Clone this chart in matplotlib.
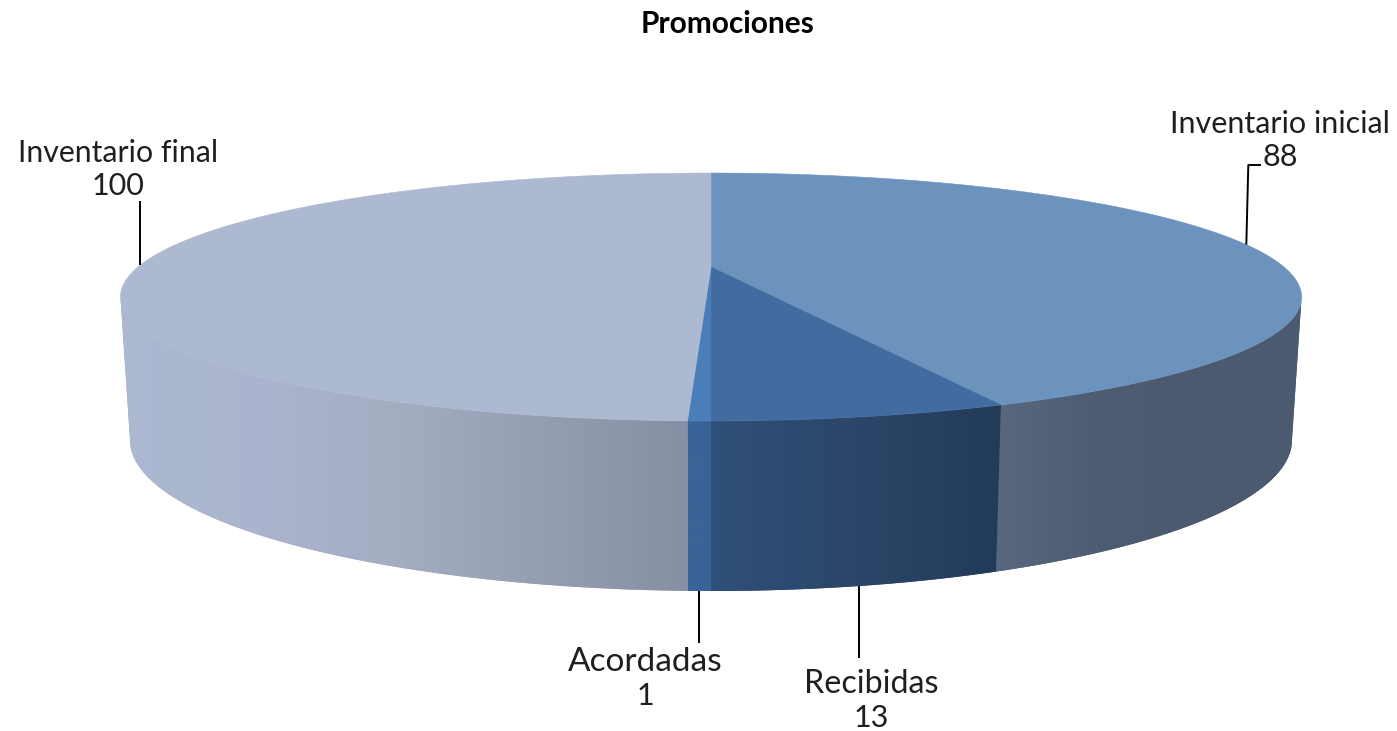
import numpy as np
import matplotlib.pyplot as plt
from matplotlib.colors import LinearSegmentedColormap
from matplotlib.patches import Polygon

# datos
categorias = ["Inventario inicial", "Recibidas", "Acordadas", "Inventario final"]
valores = [88, 13, 1, 100]

# colores de cada rebanada: cara superior y degradado del lateral (izquierda a derecha)
color_top = ["#6C93BE", "#426C9F", "#4A7EB8", "#ACB9D1"]
color_lado = [["#57687F", "#4E5C72", "#4C5A70", "#4C5A70"],
              ["#2F5078", "#2B4669", "#233B59"],
              ["#3A6497", "#3A6497"],
              ["#ACB9D1", "#ABB4CE", "#A3ACC0", "#959EB1", "#868FA3"]]

# posicion de las etiquetas (x, linea base nombre, linea base valor, fin de la guia)
pos_texto = [(1280, 133, 166, (1261, 165)),
             (871, 693, 727, (None, 658)),
             (645, 671, 705, (None, 643)),
             (118, 162, 195, (None, 201))]
# tamano del nombre, para igualar el ancho del original
tam_nombre = [22, 23.2, 24, 21.8]

# geometria del pastel en perspectiva
cx, cy = 711, 267
A, B, k = 573, 116.7, 0.242
bot_cy, bot_a, bot_b, top_a = 440, 581, 151, 591


def punto_top(a):
    w = 1 + k * np.cos(a)
    return cx + A * np.sin(a) / w, cy - B * np.cos(a) / w


def punto_bot(a):
    x = (punto_top(a)[0] - cx) * bot_a / top_a
    return cx + x, bot_cy + bot_b * np.sqrt(np.clip(1 - (x / bot_a) ** 2, 0, 1))


plt.rcParams['font.family'] = ['Lato', 'DejaVu Sans']
fig = plt.figure(figsize=(13.97, 7.31), dpi=100)
ax = fig.add_axes([0, 0, 1, 1])

angulos = np.concatenate([[0], np.cumsum(valores)]) / sum(valores) * 2 * np.pi
lim_der = np.arccos(-k)
lim_izq = 2 * np.pi - lim_der

# laterales
for i in range(len(valores)):
    a0 = max(angulos[i], lim_der)
    a1 = min(angulos[i + 1], lim_izq)
    t = np.linspace(a0, a1, 200)
    xt, yt = punto_top(t)
    xb, yb = punto_bot(t)
    pts = np.column_stack([np.r_[xt, xb[::-1]], np.r_[yt, yb[::-1]]])
    x0, x1 = pts[:, 0].min(), pts[:, 0].max()
    y0, y1 = pts[:, 1].min(), pts[:, 1].max()
    ax.add_patch(Polygon(pts, fc=color_lado[i][len(color_lado[i]) // 2], ec='none', zorder=1))
    cmap = LinearSegmentedColormap.from_list('l%d' % i, color_lado[i])
    grad = np.linspace(0, 1, 256).reshape(1, -1)
    im = ax.imshow(grad, cmap=cmap, extent=(x0, x1, y1, y0), aspect='auto', zorder=2)
    im.set_clip_path(Polygon(pts, transform=ax.transData))

# cara superior
for i in range(len(valores)):
    t = np.linspace(angulos[i], angulos[i + 1], 300)
    xt, yt = punto_top(t)
    pts = np.column_stack([np.r_[cx, xt], np.r_[cy, yt]])
    ax.add_patch(Polygon(pts, fc=color_top[i], ec=color_top[i], lw=0.4, zorder=3))

# etiquetas y guias
for i, nombre in enumerate(categorias):
    medio = (angulos[i] + angulos[i + 1]) / 2
    x_txt, y_nom, y_val, guia = pos_texto[i]
    if np.cos(medio) < -0.5:
        xa, ya = punto_bot(medio)
    else:
        xa, ya = punto_top(medio)
    if guia[0] is None:
        ax.plot([xa, xa], [ya, guia[1]], color='black', lw=1.4, zorder=4, solid_capstyle='butt')
    else:
        ax.plot([xa, xa + 2, guia[0]], [ya, guia[1], guia[1]], color='black', lw=1.4, zorder=4,
                solid_capstyle='butt')
    ax.text(x_txt, y_nom, nombre, ha='center', va='baseline', fontsize=tam_nombre[i], color='#1f1f1f', zorder=5)
    ax.text(x_txt, y_val, str(valores[i]), ha='center', va='baseline', fontsize=22, color='#1f1f1f', zorder=5)

ax.text(728, 33, "Promociones", ha='center', va='baseline', fontsize=21.5, fontweight='bold', color='black')

ax.set_xlim(0, 1397)
ax.set_ylim(731, 0)
ax.axis('off')

fig.savefig('out.png', dpi=100)
